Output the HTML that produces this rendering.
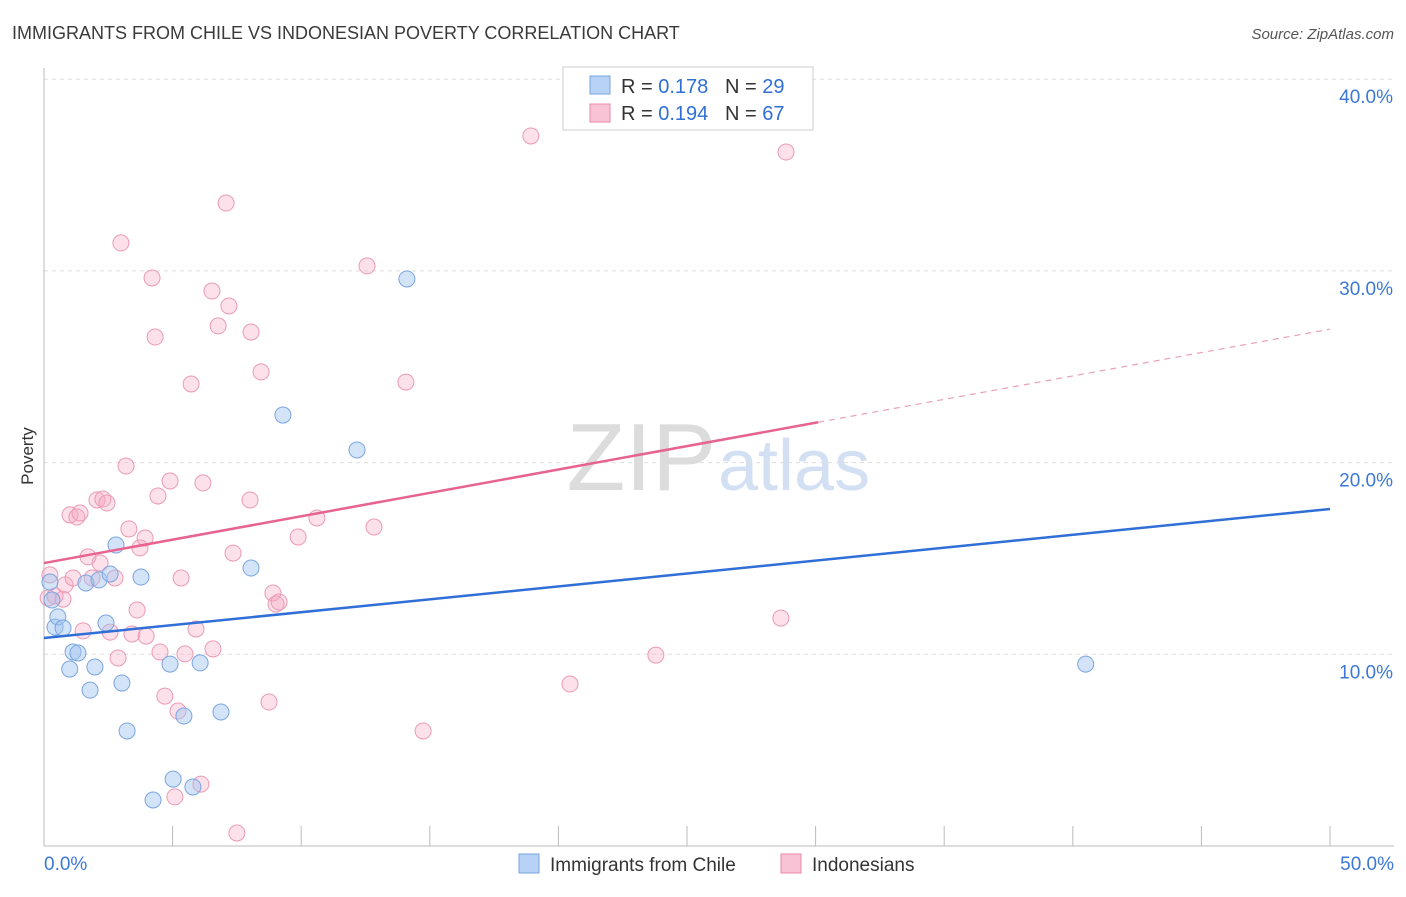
<!DOCTYPE html>
<html><head><meta charset="utf-8"><style>
body{margin:0;background:#fff;font-family:"Liberation Sans",sans-serif;}
svg text{font-family:"Liberation Sans",sans-serif;}
</style></head><body>
<svg id="chart" width="1406" height="892">
<text x="12" y="39" font-size="18" fill="#3a3a3a">IMMIGRANTS FROM CHILE VS INDONESIAN POVERTY CORRELATION CHART</text>
<text x="1394" y="39" font-size="15" fill="#555" text-anchor="end" font-style="italic">Source: ZipAtlas.com</text>
<text x="33" y="456" font-size="17" fill="#333" transform="rotate(-90 33 456)" text-anchor="middle">Poverty</text>
<text x="716" y="490" font-size="96" fill="#dcdcdc" text-anchor="end" font-family="Liberation Serif">ZIP</text>
<text x="718" y="490" font-size="72" fill="#d3e0f3">atlas</text>
<g id="grid"></g><g id="marks"></g>
<g>
<rect x="563" y="67" width="250" height="63" fill="#fff" stroke="#ccc"/>
<rect x="590" y="76" width="20" height="18" fill="#b7d2f5" stroke="#7aa5e0"/>
<rect x="590" y="104" width="20" height="18" fill="#f8c3d4" stroke="#e88aaa"/>
<text x="621" y="93" font-size="20" fill="#333" xml:space="preserve">R = <tspan fill="#2f6fd6">0.178</tspan>   N = <tspan fill="#2f6fd6">29</tspan></text>
<text x="621" y="120" font-size="20" fill="#333" xml:space="preserve">R = <tspan fill="#2f6fd6">0.194</tspan>   N = <tspan fill="#2f6fd6">67</tspan></text>
</g>
<g>
<rect x="519" y="854" width="20" height="19" fill="#b7d2f5" stroke="#7aa5e0"/>
<text x="550" y="871" font-size="19" fill="#333">Immigrants from Chile</text>
<rect x="781" y="854" width="20" height="19" fill="#f8c3d4" stroke="#e88aaa"/>
<text x="812" y="871" font-size="19" fill="#333">Indonesians</text>
</g>
</svg>
<script>
const yTicks=[10,20,30,40];
const yTickLabels=["10.0%","20.0%","30.0%","40.0%"];
const xTickVals=[0,5,10,15,20,25,30,35,40,45,50];
const chileX=[0.23,0.31,0.43,0.54,0.74,1.0,1.13,1.32,1.63,1.79,1.98,2.14,2.41,2.57,2.8,3.03,3.23,3.77,4.24,4.9,5.02,5.44,5.79,6.07,6.88,8.05,9.29,12.17,14.11,40.5];
const chileY=[13.77,12.83,11.42,11.95,11.37,9.23,10.12,10.07,13.72,8.13,9.34,13.88,11.63,14.19,15.7,8.5,6.0,14.03,2.4,9.49,3.49,6.78,3.08,9.55,6.99,14.5,22.48,20.66,29.58,9.49];
const indoX=[0.23,0.16,0.43,0.74,0.82,1.01,1.13,1.28,1.40,1.52,1.71,1.87,2.06,2.18,2.29,2.45,2.57,2.76,2.88,2.99,3.19,3.30,3.42,3.62,3.73,3.93,3.97,4.20,4.32,4.43,4.51,4.70,4.90,5.09,5.21,5.33,5.48,5.72,5.91,6.10,6.18,6.53,6.57,6.77,7.08,7.19,7.35,7.50,8.01,8.05,8.44,8.75,8.90,9.02,9.14,9.88,10.61,12.56,12.83,14.07,14.74,18.93,20.45,23.79,28.65,28.85];
const indoY=[14.14,12.94,13.04,12.88,13.62,17.27,13.98,17.16,17.37,11.22,15.08,13.98,18.05,14.76,18.10,17.89,11.16,13.98,9.81,31.46,19.82,16.54,11.06,12.31,15.55,16.07,10.95,29.63,26.55,18.26,10.12,7.82,19.04,2.56,7.04,13.98,10.02,24.10,11.32,3.23,18.94,28.95,10.28,27.13,33.54,28.17,15.28,0.68,18.05,26.81,24.73,7.51,13.20,12.62,12.73,16.12,17.11,30.26,16.64,24.20,6.00,37.04,8.45,9.96,11.89,36.20];
const chileTrend=[10.85,17.58];
const indoTrend=[14.76,26.96];
const indoSolidEnd=30.1;

const NS="http://www.w3.org/2000/svg";
const X0=44,X1=1330,Y0=846,PXY=19.17;
const sx=v=>X0+(X1-X0)*v/50;
const sy=v=>Y0-v*PXY;
function mk(tag,attrs,parent){const e=document.createElementNS(NS,tag);for(const k in attrs)e.setAttribute(k,attrs[k]);parent.appendChild(e);return e;}
const grid=document.getElementById('grid'),marks=document.getElementById('marks');
yTicks.forEach((t,i)=>{
  const l=mk('line',{x1:X0,x2:1394,y1:sy(t),y2:sy(t),stroke:'#dddddd','stroke-dasharray':'4,4'},grid);
  
  
  const tx=mk('text',{x:1393,y:sy(t)+24,'font-size':19,fill:'#3b78d8','text-anchor':'end'},grid);
  tx.textContent=yTickLabels[i];
  
  
});
mk('line',{x1:X0,x2:X0,y1:68,y2:Y0,stroke:'#bbb'},grid);
mk('line',{x1:X0,x2:1394,y1:Y0,y2:Y0,stroke:'#bbb'},grid);
xTickVals.forEach(t=>{
  const l=mk('line',{x1:sx(t),x2:sx(t),y1:Y0,y2:826,stroke:'#bbb'},grid);
  
  
});
const xl=mk('text',{x:44,y:870,'font-size':19,fill:'#3b78d8'},grid);xl.textContent='0.0%';


const xr=mk('text',{x:1394,y:870,'font-size':19,fill:'#3b78d8','text-anchor':'end'},grid);xr.textContent='50.0%';



indoX.forEach((x,i)=>{
  const c=mk('circle',{cx:sx(x),cy:sy(indoY[i]),r:8,fill:'rgba(246,170,195,0.35)',stroke:'#eb9ab5','stroke-width':1},marks);
  
  
});
chileX.forEach((x,i)=>{
  const c=mk('circle',{cx:sx(x),cy:sy(chileY[i]),r:8,fill:'rgba(160,196,240,0.45)',stroke:'#7aa5e0','stroke-width':1},marks);
  
  
});
const ct=mk('line',{x1:sx(0),y1:sy(chileTrend[0]),x2:sx(50),y2:sy(chileTrend[1]),stroke:'#2f6fd6','stroke-width':2.5},marks);


const midY=indoTrend[0]+(indoTrend[1]-indoTrend[0])*indoSolidEnd/50;
const it=mk('line',{x1:sx(0),y1:sy(indoTrend[0]),x2:sx(indoSolidEnd),y2:sy(midY),stroke:'#e76391','stroke-width':2.5},marks);


const id=mk('line',{x1:sx(indoSolidEnd),y1:sy(midY),x2:sx(50),y2:sy(indoTrend[1]),stroke:'#e9a0b8','stroke-width':1.2,'stroke-dasharray':'6,5'},marks);


</script>
</body></html>
